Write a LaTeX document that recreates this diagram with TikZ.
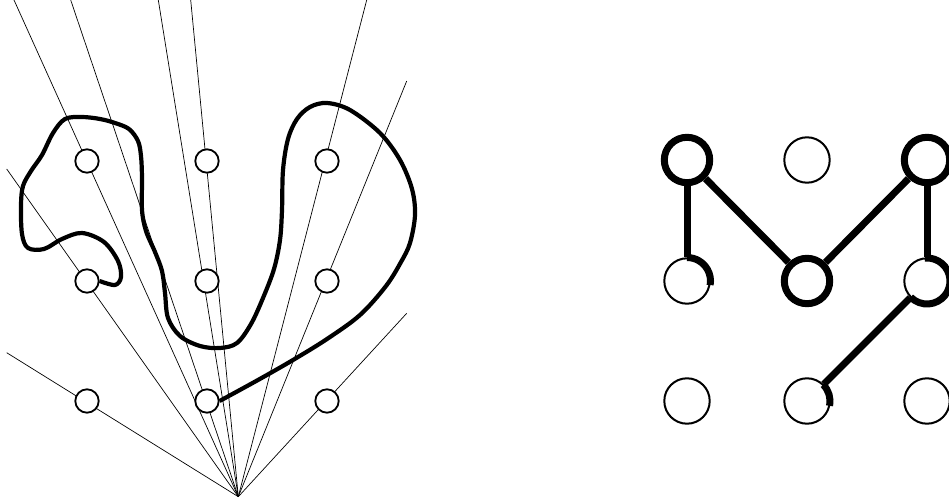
\documentclass[tikz,border=0pt]{standalone}
\pgfdeclarelayer{bg}
\pgfsetlayers{bg,main}
\begin{document}
\begin{tikzpicture}[x=1pt,y=-1pt,
  fan/.style={line width=0.7pt},
  smalldot/.style={circle,draw,fill=white,line width=1.8pt,minimum size=23.4pt,inner sep=0pt},
  curve/.style={line width=4.2pt,line join=round,line cap=butt},
  bigdot/.style={circle,draw,fill=white,line width=2pt,minimum size=45.4pt,inner sep=0pt},
  bigdotthick/.style={bigdot,line width=7pt},
  link/.style={line width=7pt},
  ring/.style={line width=7pt}]
\useasboundingbox (0,0) rectangle (949,502);

% ---------- left panel ----------
\node[smalldot] (a11) at (87,161) {};
\node[smalldot] (a12) at (207,161) {};
\node[smalldot] (a13) at (327,161) {};
\node[smalldot] (a21) at (87,281) {};
\node[smalldot] (a22) at (207,281) {};
\node[smalldot] (a23) at (327,281) {};
\node[smalldot] (a31) at (87,401) {};
\node[smalldot] (a32) at (207,401) {};
\node[smalldot] (a33) at (327,401) {};

\coordinate (O) at (238.3,496.7);
\coordinate (e1) at (14,0);
\coordinate (e2) at (70.7,0);
\coordinate (e3) at (158.3,0);
\coordinate (e4) at (190.7,0);
\coordinate (e5) at (366.7,0);
\coordinate (e6) at (406.7,81);
\coordinate (e7) at (406.7,313.3);
\coordinate (e8) at (6.7,169);
\coordinate (e9) at (6.7,352.7);

\begin{pgfonlayer}{bg}
\foreach \e in {e1,e2,e3,e4,e5,e6,e7,e8,e9}
  \draw[fan] (O) -- (\e);
\draw[curve] plot[smooth,tension=0.55] coordinates {
 (a21.east) (115,285) (121,277) (118,261) (104,242) (82,233) (62,239)
 (44,249) (28,248) (22,234) (21,205) (23,186) (31,171) (42,155) (53,133)
 (65,119) (82,117) (100,119) (115,123) (129,129) (138,141) (141,156)
 (142,178) (142,210) (146,231) (155,252) (162,271) (165,293) (168,318)
 (180,336) (200,346) (220,348) (237,343) (251,324) (263,298) (274,269)
 (280,240) (282,210) (283,170) (288,139) (297,119) (310,107) (327,103)
 (350,110) (380,133) (400,160) (412,189) (415,215) (410,243) (401,262)
 (386,286) (360,315) (327,339) (293,360) (258,380) (a32.east)};
\end{pgfonlayer}

% ---------- right panel ----------
\node[bigdotthick] (r11) at (687,160) {};
\node[bigdot]      (r12) at (807,160) {};
\node[bigdotthick] (r13) at (927,160) {};
\node[bigdot]      (r21) at (687,281) {};
\node[bigdotthick] (r22) at (807,281) {};
\node[bigdot]      (r23) at (927,281) {};
\node[bigdot]      (r31) at (687,401) {};
\node[bigdot]      (r32) at (807,401) {};
\node[bigdot]      (r33) at (927,401) {};

\draw[link] (r11) -- (r21);
\draw[link] (r11) -- (r22);
\draw[link] (r22) -- (r13);
\draw[link] (r13) -- (r23);
\draw[link] (r23) -- (r32);

\draw[ring] ([shift={(90:23.5pt)}]r21.center) arc[start angle=90,end angle=-10,radius=23.5pt];
\draw[ring] ([shift={(95:23pt)}]r23.center) arc[start angle=95,end angle=-135,radius=23pt];
\draw[ring] ([shift={(45:23pt)}]r32.center) arc[start angle=45,end angle=-12,radius=23pt];
\end{tikzpicture}
\end{document}
